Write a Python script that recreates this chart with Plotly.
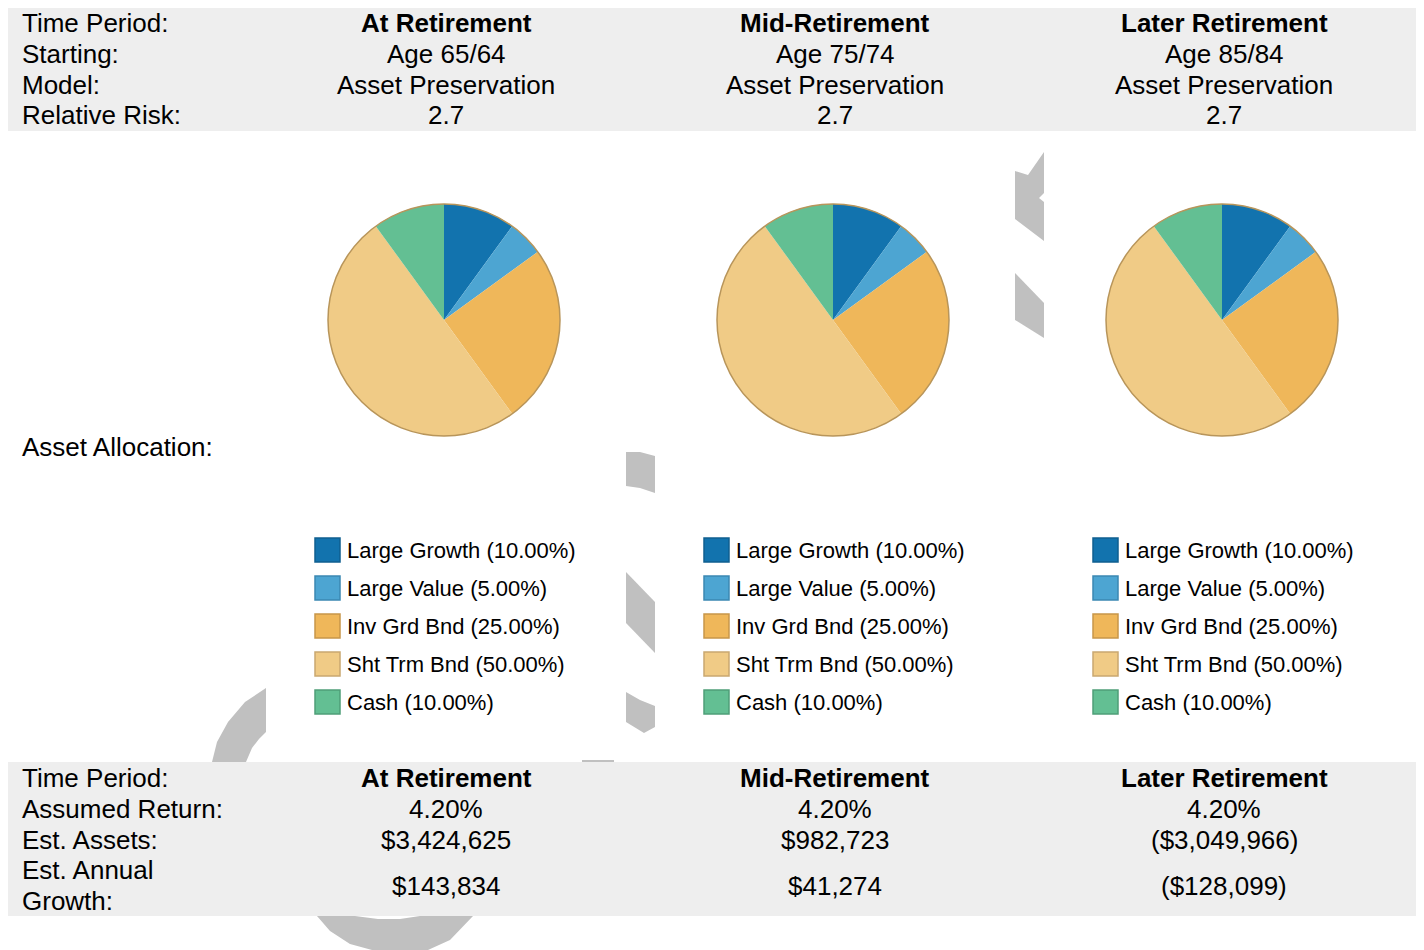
import plotly.graph_objects as go

# page has an 8px body margin, so the figure is drawn 8px in from the window edge
OFF = 8
W, H = 1424 - OFF, 950 - OFF

periods = ["At Retirement", "Mid-Retirement", "Later Retirement"]
starting = ["Age 65/64", "Age 75/74", "Age 85/84"]
models = ["Asset Preservation", "Asset Preservation", "Asset Preservation"]
relative_risk = ["2.7", "2.7", "2.7"]

categories = ["Large Growth", "Large Value", "Inv Grd Bnd", "Sht Trm Bnd", "Cash"]
alloc_at = [10, 5, 25, 50, 10]
alloc_mid = [10, 5, 25, 50, 10]
alloc_later = [10, 5, 25, 50, 10]

assumed_return = ["4.20%", "4.20%", "4.20%"]
est_assets = ["$3,424,625", "$982,723", "($3,049,966)"]
est_growth = ["$143,834", "$41,274", "($128,099)"]

colors = ["#1273ae", "#4da5d2", "#efb75a", "#f0cb86", "#63bf93"]
borders = ["#0f5f90", "#3b88b3", "#c8964a", "#c9a870", "#4f9f78"]
FONT = "Liberation Sans, Arial, sans-serif"
col_x = [446, 835, 1224]


def px(x, y):
    # window pixel -> paper coords
    return (x - OFF) / W, 1 - (y - OFF) / H


def path(points):
    s = ""
    for i, (x, y) in enumerate(points):
        a, b = px(x, y)
        s += ("M" if i == 0 else "L") + f"{a:.5f},{b:.5f} "
    return s + "Z"


fig = go.Figure()
shapes = []
annotations = []

# watermark fragments peeking out between the white panels
wm = [
    [(266, 688), (245, 702), (228, 722), (217, 742), (212, 762), (246, 762), (252, 748), (259, 739), (266, 732)],
    [(317, 916), (330, 931), (350, 944), (372, 950), (428, 950), (450, 940), (473, 916),
     (420, 916), (400, 919), (378, 919), (355, 916)],
    [(582, 760), (614, 760), (614, 763), (582, 763)],
    [(626, 452), (640, 452), (655, 456), (655, 493), (640, 488), (626, 486)],
    [(626, 572), (655, 602), (655, 653), (626, 623)],
    [(626, 692), (640, 700), (655, 706), (655, 727), (644, 733), (626, 722)],
    [(1015, 171), (1028, 175), (1044, 152), (1044, 193), (1039, 198), (1044, 202), (1044, 241), (1015, 219)],
    [(1015, 273), (1044, 303), (1044, 338), (1015, 320)],
]
for poly in wm:
    shapes.append(dict(type="path", path=path(poly), xref="paper", yref="paper",
                       fillcolor="#c0c0c0", line=dict(width=0), layer="below"))

# grey table bands
for y0, y1 in [(8, 131), (762, 916)]:
    x0, b0 = px(8, y1)
    x1, b1 = px(1419, y0)
    shapes.append(dict(type="rect", xref="paper", yref="paper", x0=x0, x1=x1, y0=b0, y1=b1,
                       fillcolor="#eeeeee", line=dict(width=0), layer="below"))


def label(x, y, text, anchor="left", size=26, bold=False):
    xa, ya = px(x, y)
    annotations.append(dict(x=xa, y=ya, xref="paper", yref="paper", text=f"<b>{text}</b>" if bold else text,
                            showarrow=False, xanchor=anchor, yanchor="middle", borderpad=0,
                            font=dict(family=FONT, size=size, color="#000000")))


top_rows = [23, 54, 85, 115]
for y, t in zip(top_rows, ["Time Period:", "Starting:", "Model:", "Relative Risk:"]):
    label(21, y, t)
for i, cx in enumerate(col_x):
    label(cx, top_rows[0], periods[i], "center", bold=True)
    label(cx, top_rows[1], starting[i], "center")
    label(cx, top_rows[2], models[i], "center")
    label(cx, top_rows[3], relative_risk[i], "center")

label(21, 447, "Asset Allocation:")

bot_rows = [778, 809, 840]
for y, t in zip(bot_rows, ["Time Period:", "Assumed Return:", "Est. Assets:"]):
    label(21, y, t)
label(21, 870, "Est. Annual")
label(21, 901, "Growth:")
for i, cx in enumerate(col_x):
    label(cx, bot_rows[0], periods[i], "center", bold=True)
    label(cx, bot_rows[1], assumed_return[i], "center")
    label(cx, bot_rows[2], est_assets[i], "center")
    label(cx, 886, est_growth[i], "center")

# pies + hand-made legends
R = 116
for i, (cx, vals) in enumerate(zip(col_x, [alloc_at, alloc_mid, alloc_later])):
    pcx = cx - 2
    x0, y0 = px(pcx - R, 320 + R)
    x1, y1 = px(pcx + R, 320 - R)
    fig.add_trace(go.Pie(labels=categories, values=vals, sort=False, direction="clockwise",
                         rotation=0, domain=dict(x=[x0, x1], y=[y0, y1]),
                         marker=dict(colors=colors, line=dict(width=0)),
                         textinfo="none", showlegend=False, name=periods[i],
                         hovertemplate="%{label}: %{value:.2f}%<extra></extra>"))
    shapes.append(dict(type="circle", xref="paper", yref="paper", x0=x0, x1=x1, y0=y0, y1=y1,
                       line=dict(color="#b8955a", width=1.5), layer="above"))
    lx = cx - 131
    for k, (cat, v) in enumerate(zip(categories, vals)):
        ly = 550 + 38 * k
        a0, b0 = px(lx, ly + 12)
        a1, b1 = px(lx + 25, ly - 12)
        shapes.append(dict(type="rect", xref="paper", yref="paper", x0=a0, x1=a1, y0=b0, y1=b1,
                           fillcolor=colors[k], line=dict(color=borders[k], width=1.5)))
        label(lx + 31, ly, f"{cat} ({v:.2f}%)", size=22)

fig.update_layout(width=W, height=H, margin=dict(l=0, r=0, t=0, b=0),
                  paper_bgcolor="white", plot_bgcolor="white",
                  shapes=shapes, annotations=annotations, showlegend=False)

fig.write_html("out.html")
